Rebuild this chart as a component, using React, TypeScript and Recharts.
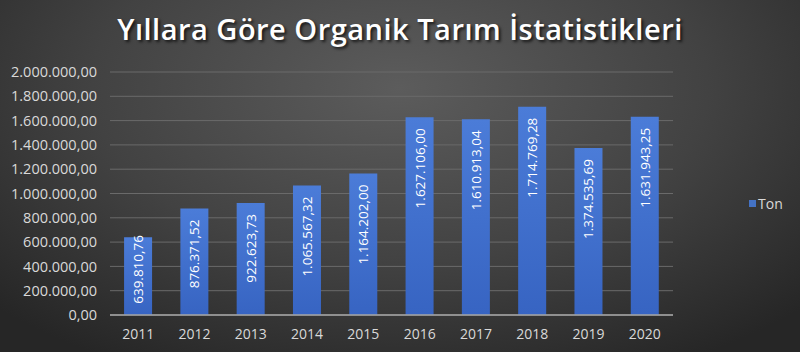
import React from "react";
import { BarChart, Bar, XAxis, YAxis, CartesianGrid, Legend, LabelList } from "recharts";

const years = ["2011", "2012", "2013", "2014", "2015", "2016", "2017", "2018", "2019", "2020"];
const tonValues = [639810.76, 876371.52, 922623.73, 1065567.32, 1164202.0, 1627106.0, 1610913.04, 1714769.28, 1374535.69, 1631943.25];
const yTicks = [0, 200000, 400000, 600000, 800000, 1000000, 1200000, 1400000, 1600000, 1800000, 2000000];

const data = years.map((y, i) => ({ year: y, Ton: tonValues[i] }));

const fmt = (v: number) => {
  const [intPart, dec] = v.toFixed(2).split(".");
  const withDots = intPart.replace(/\B(?=(\d{3})+(?!\d))/g, ".");
  return `${withDots},${dec}`;
};

const FONT = "'Open Sans', sans-serif";

const renderLabel = (props: any) => {
  const { x, y, width, height, value } = props;
  const cx = Number(x) + Number(width) / 2;
  const text = fmt(Number(value));
  const est = text.length * 6.8;
  const base = Number(y) + Number(height);
  let topY = Number(y) + 11;
  if (topY + est > base - 12) topY = base - 12 - est;
  return (
    <text
      x={cx}
      y={topY}
      transform={`rotate(-90 ${cx} ${topY})`}
      textAnchor="end"
      dominantBaseline="central"
      fill="#ffffff"
      fontSize={13.5}
      fontFamily={FONT}
    >
      {text}
    </text>
  );
};

const LegendContent = () => (
  <div style={{ display: "flex", alignItems: "center", fontFamily: FONT, fontSize: 14, color: "#d9d9d9" }}>
    <span style={{ display: "inline-block", width: 7, height: 7, background: "#4472c4", marginRight: 2 }} />
    <span>Ton</span>
  </div>
);

export default function App() {
  return (
    <div
      style={{
        position: "absolute",
        left: 0,
        top: 0,
        width: 800,
        height: 352,
        background: "radial-gradient(ellipse 70% 90% at 50% 25%, #5c5c5c 0%, #424242 55%, #262626 100%)",
        overflow: "hidden",
      }}
    >
      <div
        style={{
          position: "absolute",
          left: 0,
          top: 10,
          width: 800,
          textAlign: "center",
          color: "#ffffff",
          fontFamily: FONT,
          fontWeight: 600,
          fontSize: 29,
          letterSpacing: 0.5,
          lineHeight: "38px",
          textShadow: "2px 2px 3px rgba(0,0,0,0.7)",
        }}
      >
        Yıllara Göre Organik Tarım İstatistikleri
      </div>
      <div style={{ position: "absolute", left: 0, top: 0 }}>
        <BarChart width={800} height={352} data={data} margin={{ top: 72, right: 77, bottom: 7, left: 0 }} barCategoryGap="25%">
          <defs>
            <linearGradient id="barGrad" x1="0" y1="0" x2="0" y2="1">
              <stop offset="0%" stopColor="#4b7cd8" />
              <stop offset="100%" stopColor="#3764c2" />
            </linearGradient>
          </defs>
          <CartesianGrid vertical={false} stroke="#6a6a6a" strokeWidth={1} />
          <XAxis
            dataKey="year"
            height={30}
            tickLine={false}
            axisLine={{ stroke: "#a6a6a6", strokeWidth: 1.5 }}
            tick={{ fill: "#d9d9d9", fontSize: 14, fontFamily: FONT }}
            tickMargin={8}
          />
          <YAxis
            width={110}
            domain={[0, 2000000]}
            ticks={yTicks}
            interval={0}
            tickLine={false}
            axisLine={false}
            tickFormatter={(v: number) => fmt(v)}
            tick={{ fill: "#d9d9d9", fontSize: 14.5, fontFamily: FONT }}
            tickMargin={7}
          />
          <Legend
            verticalAlign="middle"
            align="right"
            layout="horizontal"
            content={<LegendContent />}
            wrapperStyle={{ position: "absolute", left: 749, top: 194, width: 50 }}
          />
          <Bar dataKey="Ton" fill="url(#barGrad)" isAnimationActive={false}>
            <LabelList dataKey="Ton" content={renderLabel} />
          </Bar>
        </BarChart>
      </div>
    </div>
  );
}
